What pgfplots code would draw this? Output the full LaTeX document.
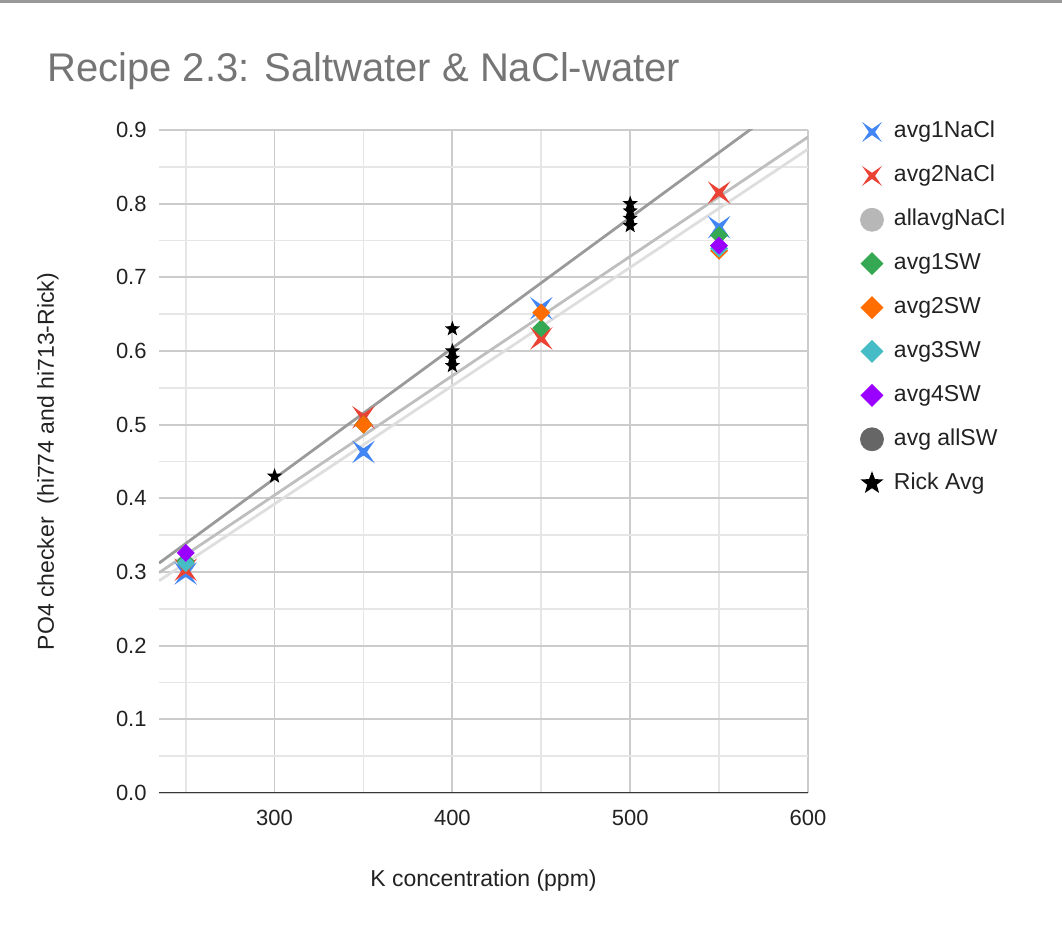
\documentclass[border=0pt]{standalone}
\usepackage{fontspec}
\setmainfont{Liberation Sans}
\usepackage{pgfplots}
\pgfplotsset{compat=1.18}

\definecolor{cBlue}{HTML}{4285F4}
\definecolor{cRed}{HTML}{EA4335}
\definecolor{cLGray}{HTML}{B7B7B7}
\definecolor{cGreen}{HTML}{34A853}
\definecolor{cOrange}{HTML}{FF6D01}
\definecolor{cTeal}{HTML}{46BDC6}
\definecolor{cPurple}{HTML}{9900FF}
\definecolor{cDGray}{HTML}{666666}
\definecolor{trDark}{HTML}{9A9A9A}
\definecolor{trMid}{HTML}{BEBEBE}
\definecolor{trLight}{HTML}{DEDEDE}
\definecolor{gridMajor}{HTML}{CCCCCC}
\definecolor{gridMinor}{HTML}{E6E6E6}
\definecolor{txt}{HTML}{222222}
\definecolor{titlec}{HTML}{757575}

\pgfdeclareplotmark{xstar}{%
\pgfpathmoveto{\pgfpointpolar{45}{\pgfplotmarksize}}%
\pgfpathlineto{\pgfpointpolar{90}{0.22\pgfplotmarksize}}%
\pgfpathlineto{\pgfpointpolar{135}{\pgfplotmarksize}}%
\pgfpathlineto{\pgfpointpolar{180}{0.22\pgfplotmarksize}}%
\pgfpathlineto{\pgfpointpolar{225}{\pgfplotmarksize}}%
\pgfpathlineto{\pgfpointpolar{270}{0.22\pgfplotmarksize}}%
\pgfpathlineto{\pgfpointpolar{315}{\pgfplotmarksize}}%
\pgfpathlineto{\pgfpointpolar{0}{0.22\pgfplotmarksize}}%
\pgfpathclose\pgfusepathqfill}

\pgfdeclareplotmark{fstar}{%
\pgfpathmoveto{\pgfpointpolar{90}{\pgfplotmarksize}}%
\pgfpathlineto{\pgfpointpolar{126}{0.42\pgfplotmarksize}}%
\pgfpathlineto{\pgfpointpolar{162}{\pgfplotmarksize}}%
\pgfpathlineto{\pgfpointpolar{198}{0.42\pgfplotmarksize}}%
\pgfpathlineto{\pgfpointpolar{234}{\pgfplotmarksize}}%
\pgfpathlineto{\pgfpointpolar{270}{0.42\pgfplotmarksize}}%
\pgfpathlineto{\pgfpointpolar{306}{\pgfplotmarksize}}%
\pgfpathlineto{\pgfpointpolar{342}{0.42\pgfplotmarksize}}%
\pgfpathlineto{\pgfpointpolar{18}{\pgfplotmarksize}}%
\pgfpathlineto{\pgfpointpolar{54}{0.42\pgfplotmarksize}}%
\pgfpathclose\pgfusepathqfill}

\pgfdeclareplotmark{sqdiamond}{%
\pgfpathmoveto{\pgfqpoint{0pt}{\pgfplotmarksize}}%
\pgfpathlineto{\pgfqpoint{\pgfplotmarksize}{0pt}}%
\pgfpathlineto{\pgfqpoint{0pt}{-\pgfplotmarksize}}%
\pgfpathlineto{\pgfqpoint{-\pgfplotmarksize}{0pt}}%
\pgfpathclose\pgfusepathqfill}

\pgfplotsset{lg/.style={legend image code/.code={%
  \pgfpathrectangle{\pgfpoint{0cm}{-5pt}}{\pgfpoint{18pt}{10pt}}%
  \pgfusepath{use as bounding box}%
  \draw[##1, mark size=#1, overlay] plot coordinates {(8.5pt,0cm)};}}}

\begin{document}
\begin{tikzpicture}
\useasboundingbox (-79.5pt,-71.5pt) rectangle (451.5pt,396.5pt);
\draw[color=gray!80, line width=1.5pt] (-79.5pt,395.75pt) -- (451.5pt,395.75pt);
\begin{axis}[
  at={(0,0)}, anchor=south west,
  scale only axis,
  width=324.5pt, height=331.5pt,
  xmin=235, xmax=600, ymin=0, ymax=0.9,
  xtick={300,400,500,600},
  minor xtick={250,350,450,550},
  ytick={0,0.1,...,0.9},
  minor y tick num=1,
  grid=both,
  major grid style={color=gridMajor, line width=0.9pt},
  minor grid style={color=gridMinor, line width=0.9pt},
  major tick length=0pt, minor tick length=0pt,
  axis line style={draw=none},
  /pgf/number format/assume math mode=true,
  yticklabel style={/pgf/number format/fixed, /pgf/number format/fixed zerofill, /pgf/number format/precision=1},
  xticklabel style={/pgf/number format/1000 sep={}},
  ticklabel style={font=\fontsize{11}{13}\selectfont, text=txt},
  xticklabel style={anchor=center, yshift=-12.5pt},
  yticklabel style={anchor=east, inner xsep=0pt, xshift=-6pt},
  xlabel={K concentration (ppm)},
  ylabel={PO4 checker\ \ (hi774 and hi713-Rick)},
  label style={font=\fontsize{11.5}{13}\selectfont, text=txt},
  xlabel style={at={(axis description cs:0.5,0)}, anchor=center, yshift=-44pt},
  ylabel style={at={(axis description cs:0,0.5)}, anchor=center, yshift=55.5pt},
  title={Recipe 2.3: Saltwater \& NaCl-water},
  title style={at={(axis description cs:0,1)}, anchor=base west, inner sep=0pt, xshift=-56pt, yshift=18pt, font=\fontsize{20}{24}\selectfont, text=titlec},
  legend style={draw=none, fill=none, at={(rel axis cs:1,1)}, anchor=north west,
    xshift=23.5pt, yshift=5pt, inner sep=0pt, outer sep=0pt, row sep=9.95pt,
    font=\fontsize{11.5}{13}\selectfont, text=txt,
    nodes={inner xsep=1.5pt, inner ysep=0pt, text height=9pt, text depth=3pt}},
  legend cell align=left,
  clip=true,
]
% trendlines
\addplot[forget plot, color=trLight, line width=1.4pt] coordinates {(235,0.288) (600,0.874)};
\addplot[forget plot, color=trMid, line width=1.4pt] coordinates {(235,0.299) (600,0.8905)};
\addplot[forget plot, color=trDark, line width=1.4pt] coordinates {(235,0.312) (600,0.958)};

\addplot[only marks, mark=xstar, mark size=8pt, color=cBlue, lg=7pt] coordinates {(250,0.298) (350,0.463) (450,0.658) (550,0.768)};
\addlegendentry{avg1NaCl}
\addplot[only marks, mark=xstar, mark size=8pt, color=cRed, lg=7pt] coordinates {(250,0.303) (350,0.510) (450,0.617) (550,0.815)};
\addlegendentry{avg2NaCl}
\addlegendimage{only marks, mark=*, color=cLGray, lg=5.75pt}
\addlegendentry{allavgNaCl}
\addplot[only marks, mark=sqdiamond, mark size=4.5pt, color=cGreen, lg=5.75pt] coordinates {(250,0.315) (350,0.500) (450,0.631) (550,0.757)};
\addlegendentry{avg1SW}
\addplot[only marks, mark=sqdiamond, mark size=4.5pt, color=cOrange, lg=5.75pt] coordinates {(250,0.312) (350,0.500) (450,0.652) (550,0.736)};
\addlegendentry{avg2SW}
\addplot[only marks, mark=sqdiamond, mark size=4.5pt, color=cTeal, lg=5.75pt] coordinates {(250,0.312) (550,0.739)};
\addlegendentry{avg3SW}
\addplot[only marks, mark=sqdiamond, mark size=4.5pt, color=cPurple, lg=5.75pt] coordinates {(250,0.326) (550,0.743)};
\addlegendentry{avg4SW}
\addlegendimage{only marks, mark=*, color=cDGray, lg=5.75pt}
\addlegendentry{avg allSW}
\addplot[only marks, mark=fstar, mark size=4pt, color=black, lg=6pt] coordinates {(300,0.43) (400,0.58) (400,0.59) (400,0.60) (400,0.63) (500,0.77) (500,0.78) (500,0.79) (500,0.80)};
\addlegendentry{Rick Avg}
\draw[color=txt!90, line width=1pt] (rel axis cs:0,0) -- (rel axis cs:1,0);
\end{axis}
\end{tikzpicture}
\end{document}
